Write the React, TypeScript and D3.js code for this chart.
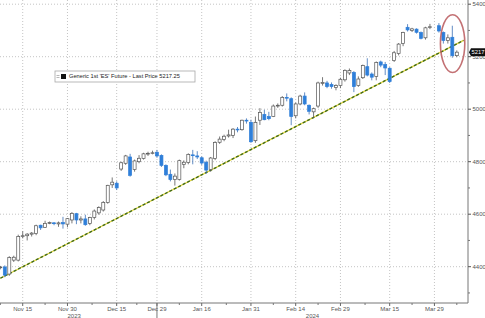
import React from "react";
import * as d3 from "d3";

// ---- data ----
const dates = [
  "2023-11-08","2023-11-09","2023-11-10","2023-11-13","2023-11-14","2023-11-15","2023-11-16","2023-11-17",
  "2023-11-20","2023-11-21","2023-11-22","2023-11-24","2023-11-27","2023-11-28","2023-11-29","2023-11-30",
  "2023-12-01","2023-12-04","2023-12-05","2023-12-06","2023-12-07","2023-12-08","2023-12-11","2023-12-12",
  "2023-12-13","2023-12-14","2023-12-15","2023-12-18","2023-12-19","2023-12-20","2023-12-21","2023-12-22",
  "2023-12-26","2023-12-27","2023-12-28","2023-12-29","2024-01-02","2024-01-03","2024-01-04","2024-01-05",
  "2024-01-08","2024-01-09","2024-01-10","2024-01-11","2024-01-12","2024-01-16","2024-01-17","2024-01-18",
  "2024-01-19","2024-01-22","2024-01-23","2024-01-24","2024-01-25","2024-01-26","2024-01-29","2024-01-30",
  "2024-01-31","2024-02-01","2024-02-02","2024-02-05","2024-02-06","2024-02-07","2024-02-08","2024-02-09",
  "2024-02-12","2024-02-13","2024-02-14","2024-02-15","2024-02-16","2024-02-20","2024-02-21","2024-02-22",
  "2024-02-23","2024-02-26","2024-02-27","2024-02-28","2024-02-29","2024-03-01","2024-03-04","2024-03-05",
  "2024-03-06","2024-03-07","2024-03-08","2024-03-11","2024-03-12","2024-03-13","2024-03-14","2024-03-15",
  "2024-03-18","2024-03-19","2024-03-20","2024-03-21","2024-03-22","2024-03-25","2024-03-26","2024-03-27",
  "2024-03-28","2024-03-29","2024-04-01","2024-04-02","2024-04-03","2024-04-04","2024-04-05",
];

const opens = [
  4398,4399,4372,4425,4425,4515,4518,4524,4526,4558,4550,4566,4567,4563,4568,4562,
  4578,4602,4578,4582,4565,4588,4605,4616,4645,4712,4718,4772,4794,4818,4770,4800,
  4812,4829,4833,4836,4824,4786,4752,4732,4732,4790,4797,4826,4822,4815,4798,4770,
  4812,4874,4885,4898,4900,4924,4922,4958,4950,4880,4958,4980,4972,4972,5012,5015,
  5045,5040,4975,5020,5050,5015,4990,5012,5098,5100,5094,5083,5090,5112,5138,5140,
  5090,5120,5162,5134,5125,5180,5170,5156,5185,5212,5250,5312,5300,5305,5292,5272,
  5312,null,5318,5292,5262,5274,5204,
];
const highs = [
  4403,4405,4440,4442,4522,4535,4528,4532,4560,4560,4575,4572,4570,4572,4590,4585,
  4608,4605,4592,4598,4590,4618,4630,4650,4712,4740,4725,4800,4826,4830,4808,4825,
  4834,4838,4842,4845,4828,4790,4770,4755,4808,4805,4832,4845,4840,4820,4804,4818,
  4878,4896,4903,4922,4928,4932,4960,4965,4960,4972,5004,4998,4990,5018,5022,5050,
  5060,5045,5025,5055,5064,5018,5006,5105,5122,5108,5102,5095,5120,5152,5155,5145,
  5125,5170,5194,5140,5182,5185,5180,5160,5222,5252,5295,5324,5310,5308,5296,5314,
  5325,null,5328,5296,5285,5318,5224,
];
const lows = [
  4390,4360,4365,4418,4420,4508,4500,4515,4520,4540,4548,4562,4558,4552,4545,4550,
  4565,4562,4565,4556,4558,4580,4598,4610,4640,4700,4692,4765,4788,4743,4762,4794,
  4808,4822,4828,4815,4780,4745,4725,4709,4728,4775,4790,4790,4810,4788,4754,4762,
  4806,4868,4878,4892,4890,4912,4918,4945,4872,4872,4940,4958,4958,4970,5005,5010,
  5030,4939,4965,5015,5015,4980,4966,5005,5090,5080,5078,5072,5080,5105,5130,5065,
  5085,5115,5125,5110,5110,5160,5130,5100,5180,5205,5240,5296,5294,5288,5266,5265,
  5305,null,5292,5250,5250,5196,5198,
];
const closes = [
  4399,4368,4435,4436,4515,4518,4524,4528,4556,4548,4565,4568,4564,4567,4563,4583,
  4603,4578,4582,4560,4587,4612,4625,4645,4710,4722,4700,4796,4822,4748,4803,4813,
  4830,4832,4834,4822,4786,4750,4732,4745,4804,4798,4828,4823,4818,4795,4768,4814,
  4873,4886,4897,4902,4924,4922,4958,4955,4876,4950,4988,4960,4964,5012,5015,5045,
  5042,4972,5020,5050,5020,4992,5002,5100,5102,5086,5086,5090,5114,5148,5147,5086,
  5115,5166,5130,5122,5178,5168,5157,5105,5215,5248,5292,5302,5306,5293,5270,5310,
  5314,null,5298,5262,5272,5204,5217.25,
];

const yTicks = [4400, 4600, 4800, 5000, 5200, 5400];
const yMinorTicks = [4300, 4500, 4700, 4900, 5100, 5300];
const xTickDates = ["2023-11-15","2023-11-30","2023-12-15","2023-12-29","2024-01-16","2024-01-31","2024-02-14","2024-02-29","2024-03-15","2024-03-29"];
const xTickLabels = ["Nov 15","Nov 30","Dec 15","Dec 29","Jan 16","Jan 31","Feb 14","Feb 29","Mar 15","Mar 29"];
const yearLabels = ["2023", "2024"];
const yearBreakDate = "2023-12-29";
const trendStart = { index: 0, value: 4356 };
const trendEnd = { index: 103.5, value: 5262 };
const legendLabel = "Generic 1st 'ES' Future - Last Price 5217.25";
const highlightDates = ["2024-03-29", "2024-04-05"];
const highlightValues = [5140, 5360];

// ---- layout ----
const W = 485;
const H = 318;
const plotRight = 468;
const plotBottom = 303;
const FONT = "'Liberation Sans', Arial, sans-serif";

export default function App() {
  const x = d3.scaleLinear().domain([0, dates.length - 1]).range([0.33, 456.8]);
  const y = d3.scaleLinear().domain([4400, 5400]).range([266.7, 4.2]);
  const xi = (d: string) => x(dates.indexOf(d));

  const candles = dates
    .map((d, i) => ({ d, i, o: opens[i], h: highs[i], l: lows[i], c: closes[i] }))
    .filter((k) => k.o !== null);

  const bw = 3;
  const sep = xi(yearBreakDate);
  const tickXs = xTickDates.map(xi);
  const minorXs = tickXs.slice(0, -1).map((t, k) => (t + tickXs[k + 1]) / 2);
  minorXs.push(tickXs[tickXs.length - 1] + (tickXs[1] - tickXs[0]) / 2);
  const firstMinor = tickXs[0] - (tickXs[1] - tickXs[0]) / 2;
  if (firstMinor > 0) minorXs.unshift(firstMinor);

  const trendLine = d3
    .line<{ index: number; value: number }>()
    .x((p) => x(p.index))
    .y((p) => y(p.value))([trendStart, trendEnd]);

  const last = closes[closes.length - 1] as number;
  const hx0 = xi(highlightDates[0]);
  const hx1 = xi(highlightDates[1]);
  const hcx = (hx0 + hx1) / 2 + 7;
  const hrx = (hx1 - hx0) / 2 + 1;
  const hy0 = y(highlightValues[1]);
  const hy1 = y(highlightValues[0]);

  return (
    <svg
      width={W}
      height={H}
      style={{ position: "absolute", left: 0, top: 0, background: "#fff" }}
      fontFamily={FONT}
    >
      <rect x={0} y={0} width={W} height={H} fill="#fff" />
      {/* grid */}
      {yTicks.map((t) => (
        <line key={"gy" + t} x1={0} x2={plotRight} y1={y(t)} y2={y(t)} stroke="#c4c4c4" strokeWidth={1} strokeDasharray="1,2" />
      ))}
      {tickXs.map((tx, k) => (
        <line key={"gx" + k} x1={tx} x2={tx} y1={0} y2={plotBottom} stroke="#c4c4c4" strokeWidth={1} strokeDasharray="1,2" />
      ))}

      {/* trend line */}
      <path d={trendLine || ""} stroke="#e2d640" strokeWidth={1.4} fill="none" />
      <path d={trendLine || ""} stroke="#3f6a1c" strokeWidth={1.4} fill="none" strokeDasharray="3,2" />

      {/* candles */}
      {candles.map((k) => {
        const cx = x(k.i);
        const up = (k.c as number) >= (k.o as number);
        const top = y(Math.max(k.o as number, k.c as number));
        const bot = y(Math.min(k.o as number, k.c as number));
        const bh = Math.max(bot - top, 0.8);
        return (
          <g key={k.d}>
            <line x1={cx} x2={cx} y1={y(k.h as number)} y2={y(k.l as number)} stroke={up ? "#555" : "#3a6fb5"} strokeWidth={0.8} />
            <rect
              x={cx - bw / 2}
              y={top}
              width={bw}
              height={bh}
              fill={up ? "#fff" : "#2f7fd9"}
              stroke={up ? "#555" : "#2f7fd9"}
              strokeWidth={0.7}
            />
          </g>
        );
      })}

      {/* highlight ellipse */}
      <ellipse cx={hcx} cy={(hy0 + hy1) / 2} rx={hrx} ry={(hy1 - hy0) / 2} fill="none" stroke="#b9585c" strokeWidth={1.6} opacity={0.85} />

      {/* axes */}
      <line x1={plotRight} x2={plotRight} y1={0} y2={plotBottom} stroke="#777" strokeWidth={1} />
      <line x1={0} x2={plotRight} y1={plotBottom} y2={plotBottom} stroke="#777" strokeWidth={1} />
      {yTicks.map((t) => (
        <g key={"yt" + t}>
          <line x1={plotRight} x2={plotRight + 3} y1={y(t)} y2={y(t)} stroke="#555" strokeWidth={1} />
          <text x={plotRight + 4.5} y={y(t)} dy="0.35em" fontSize={6} fill="#555">
            {t}
          </text>
        </g>
      ))}
      {yMinorTicks.map((t) => (
        <line key={"ym" + t} x1={plotRight} x2={plotRight + 2} y1={y(t)} y2={y(t)} stroke="#777" strokeWidth={1} />
      ))}
      {tickXs.map((tx, k) => (
        <g key={"xt" + k}>
          <line x1={tx} x2={tx} y1={plotBottom} y2={plotBottom + 3} stroke="#666" strokeWidth={1} />
          <text x={tx} y={310.5} textAnchor="middle" fontSize={6} fill="#555">
            {xTickLabels[k]}
          </text>
        </g>
      ))}
      {minorXs.map((mx, k) => (
        <line key={"xm" + k} x1={mx} x2={mx} y1={plotBottom} y2={plotBottom + 2} stroke="#777" strokeWidth={1} />
      ))}
      <line x1={sep} x2={sep} y1={plotBottom} y2={H} stroke="#777" strokeWidth={1} />
      <text x={(x(-2) + sep) / 2} y={317.5} textAnchor="middle" fontSize={6} fill="#555">
        {yearLabels[0]}
      </text>
      <text x={(sep + plotRight) / 2} y={317.5} textAnchor="middle" fontSize={6} fill="#555">
        {yearLabels[1]}
      </text>

      {/* last price tag */}
      <path
        d={`M${plotRight + 1},${y(last)} L${plotRight + 3},${y(last) - 4} L${W},${y(last) - 4} L${W},${y(last) + 4} L${plotRight + 3},${y(last) + 4} Z`}
        fill="#111"
      />
      <text x={plotRight + 3.5} y={y(last)} dy="0.36em" fontSize={5.8} fill="#fff">
        {Math.floor(last)}
      </text>

      {/* legend */}
      <rect x={55} y={71} width={140} height={11} fill="#fff" stroke="#a8a8a8" strokeWidth={0.8} />
      <line x1={56.5} x2={59.5} y1={75.5} y2={75.5} stroke="#999" strokeWidth={0.7} />
      <line x1={56.5} x2={59.5} y1={77.5} y2={77.5} stroke="#999" strokeWidth={0.7} />
      <rect x={61} y={74} width={5} height={5} fill="#111" />
      <text x={69} y={76.5} dy="0.35em" fontSize={5.7} fill="#222">
        {legendLabel}
      </text>
    </svg>
  );
}
